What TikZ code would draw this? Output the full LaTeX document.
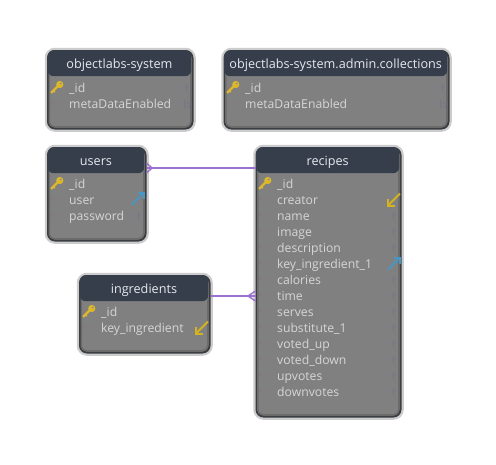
\documentclass[tikz,border=0pt]{standalone}
\usepackage{fontspec}
\setmainfont{Open Sans}
\definecolor{halo}{HTML}{CCCCCC}
\definecolor{edge}{HTML}{3A3D42}
\definecolor{band}{HTML}{6C6C6C}
\definecolor{bodyc}{HTML}{808080}
\definecolor{headc}{HTML}{363D4B}
\definecolor{rowc}{HTML}{D6D6D6}
\definecolor{titlec}{HTML}{E6EAF0}
\definecolor{keyc}{HTML}{DDB82A}
\definecolor{fkin}{HTML}{D2B422}
\definecolor{fkout}{HTML}{4A96C2}
\definecolor{linkc}{HTML}{9A70D0}
\definecolor{markc}{HTML}{957070}
\definecolor{typec}{HTML}{727889}
\tikzset{
  x=1pt,y=-1pt,
  tablebox/.style={draw=edge,line width=2pt,fill=bodyc,rounded corners=7pt,anchor=north west,inner sep=0pt,
    preaction={draw=halo,line width=6.5pt}},
  tableband/.style={draw=band,line width=1.5pt,rounded corners=5pt,anchor=north west,inner sep=0pt},
  tablehead/.style={fill=headc,rounded corners=6pt,anchor=north west,inner sep=0pt,text=titlec,
    font=\fontsize{12.65}{14}\selectfont,align=center,text height=11pt,text depth=1pt},
  rowtext/.style={anchor=base west,inner sep=0pt,text=rowc,font=\fontsize{12.2}{14}\selectfont},
  typetext/.style={anchor=base,inner sep=0pt,text=typec,font=\fontsize{11.5}{13}\selectfont},
  rowmark/.style={anchor=center,inner sep=0pt,text=markc,font=\fontsize{7}{7}\selectfont},
  linkline/.style={draw=linkc,line width=1.4pt},
  fkinline/.style={draw=fkin,line width=2pt},
  fkoutline/.style={draw=fkout,line width=2pt},
  pics/keyicon/.style={code={
    \draw[keyc,line width=2.2pt,line cap=round] (-5.5,5.5) -- (1,-1);
    \draw[keyc,line width=1.5pt] (-3.8,3.6) -- (-2.2,5.2);
    \fill[keyc] (2.8,-2.5) circle (3.6);
    \fill[bodyc] (3.8,-3.4) circle (0.9);
  }},
}
% name, x1, y1, x2, y2, title
\newcommand{\tablenode}[6]{%
  \node[tablebox,minimum width=#4pt-#2pt,minimum height=#5pt-#3pt] (#1) at (#2,#3) {};
  \node[tableband,minimum width=#4pt-#2pt-3pt,minimum height=#5pt-#3pt-3pt] (#1band) at (#2+1.5,#3+1.5) {};
  \node[tablehead,minimum width=#4pt-#2pt-1pt,minimum height=26pt] (#1head) at (#2+0.5,#3) {#6};
}
% table name, text x, y, label, type label x, type
\newcommand{\fieldrow}[6]{%
  \node[rowmark] (#1m#3) at (#2-17,#3) {×};
  \node[rowtext] (#1f#3) at (#2,#3+4) {#4};
  \node[typetext] (#1t#3) at (#5,#3+4) {#6};
}
\newcommand{\fieldrowplain}[4]{%
  \node[rowmark] (#1m#3) at (#2-17,#3) {×};
  \node[rowtext] (#1f#3) at (#2,#3+4) {#4};
}
\begin{document}
\begin{tikzpicture}
\useasboundingbox (0,0) rectangle (496,464);
\fill[white] (0,0) rectangle (496,464);

\tablenode{sys}{47}{50}{191.5}{127.5}{objectlabs-system}
\tablenode{adm}{223.5}{50}{447.5}{127.5}{objectlabs-system.admin.collections}
\tablenode{users}{47}{147}{144.5}{239.5}{users}
\tablenode{rec}{255.5}{147}{399.5}{415.5}{recipes}
\tablenode{ing}{79}{275}{208.5}{351.5}{ingredients}

\fieldrow{sys}{69}{88}{\_id}{187}{t}
\fieldrow{sys}{69}{104}{metaDataEnabled}{187}{b}
\pic at (57,87) {keyicon};

\fieldrow{adm}{245}{88}{\_id}{443}{t}
\fieldrow{adm}{245}{104}{metaDataEnabled}{443}{b}
\pic at (233,87) {keyicon};

\fieldrowplain{users}{69}{184}{\_id}
\fieldrowplain{users}{69}{200}{user}
\fieldrow{users}{69}{216}{password}{139}{t}
\pic at (57,183) {keyicon};

\fieldrowplain{ing}{101}{312}{\_id}
\fieldrowplain{ing}{101}{328}{key\_ingredient}
\pic at (89,311) {keyicon};

\fieldrowplain{rec}{277}{184}{\_id}
\fieldrowplain{rec}{277}{200}{creator}
\fieldrow{rec}{277}{216}{name}{394}{t}
\fieldrow{rec}{277}{232}{image}{394}{t}
\fieldrow{rec}{277}{248}{description}{394}{t}
\fieldrowplain{rec}{277}{264}{key\_ingredient\_1}
\fieldrow{rec}{277}{280}{calories}{394}{t}
\fieldrow{rec}{277}{296}{time}{394}{t}
\fieldrow{rec}{277}{312}{serves}{394}{t}
\fieldrow{rec}{277}{328}{substitute\_1}{394}{t}
\fieldrow{rec}{277}{344}{voted\_up}{394}{t}
\fieldrow{rec}{277}{360}{voted\_down}{394}{t}
\fieldrow{rec}{277}{376}{upvotes}{394}{t}
\fieldrow{rec}{277}{392}{downvotes}{394}{t}
\pic at (265,183) {keyicon};

% foreign-key arrows
\draw[fkinline] (400,193.5) -- (388,205.5);
\draw[fkinline] (388,199) -- (388,205.5) -- (395,205.5);
\draw[fkoutline] (388,269.5) -- (400,257.5);
\draw[fkoutline] (393.5,257.5) -- (400,257.5) -- (400,264);
\draw[fkoutline] (132,204.5) -- (144,192.5);
\draw[fkoutline] (137.5,192.5) -- (144,192.5) -- (144,199);
\draw[fkinline] (208,321.5) -- (196,333.5);
\draw[fkinline] (196,327) -- (196,333.5) -- (203,333.5);

% relations
\coordinate (uA) at (users.east |- 0,168);
\coordinate (rA) at (rec.west |- 0,168);
\coordinate (iA) at (ing.east |- 0,296);
\coordinate (rB) at (rec.west |- 0,296);
\draw[linkline] (uA) -- (rA);
\draw[linkline] (iA) -- (rB);
\coordinate (uFoot) at (152,168);
\coordinate (rFoot) at (248,296);
\draw[linkline] ([yshift=-5pt]uA) -- (uFoot) -- ([yshift=5pt]uA);
\draw[linkline] ([yshift=-5pt]rB) -- (rFoot) -- ([yshift=5pt]rB);
\end{tikzpicture}
\end{document}
